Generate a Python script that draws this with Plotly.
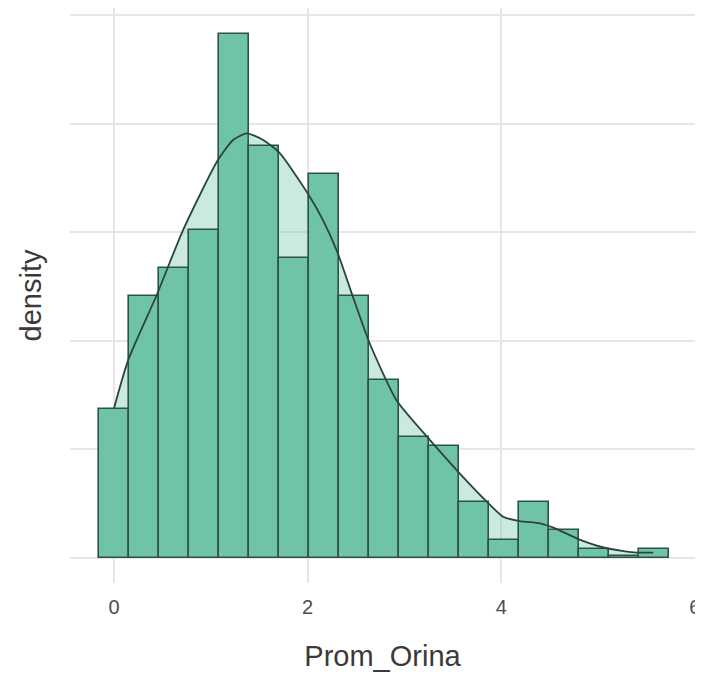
import plotly.graph_objects as go

# Histogram bins (centres) and densities
bin_centers = [0.00, 0.31, 0.62, 0.93, 1.24, 1.55, 1.86, 2.17, 2.48, 2.79,
               3.10, 3.41, 3.72, 4.03, 4.34, 4.65, 4.96, 5.27, 5.58]
bin_density = [0.137, 0.241, 0.267, 0.302, 0.483, 0.379, 0.276, 0.354, 0.241, 0.164,
               0.111, 0.103, 0.052, 0.017, 0.052, 0.026, 0.008, 0.002, 0.008]
bin_width = 0.31

# Kernel density curve
kde_x = [0.00, 0.145, 0.44, 0.713, 1.07, 1.23, 1.37, 1.54, 1.71, 2.00, 2.16,
         2.31, 2.47, 2.64, 2.92, 3.26, 3.57, 3.85, 4.02, 4.19, 4.40, 4.54, 4.81,
         5.09, 5.40, 5.57]
kde_y = [0.138, 0.182, 0.242, 0.302, 0.366, 0.385, 0.391, 0.385, 0.373, 0.336, 0.311,
         0.281, 0.240, 0.198, 0.145, 0.109, 0.078, 0.052, 0.038, 0.034, 0.032, 0.028, 0.017,
         0.009, 0.005, 0.005]

x_ticks = [0, 2, 4, 6]
x_range = [-0.455, 6.002]
y_range = [-0.023, 0.5065]
y_grid = [0, 0.1, 0.2, 0.3, 0.4, 0.5]

fig = go.Figure()

# density fill (behind bars)
fig.add_trace(go.Scatter(
    x=kde_x, y=kde_y, mode="lines", line=dict(width=0, shape="spline", smoothing=0.6),
    fill="tozeroy", fillcolor="rgba(102,194,165,0.35)", hoverinfo="skip",
    showlegend=False, xaxis="x", yaxis="y"))

# histogram bars (on overlay axis so they sit above the fill)
fig.add_trace(go.Bar(
    x=bin_centers, y=bin_density, width=[bin_width] * len(bin_centers),
    marker=dict(color="#6FC3A8", line=dict(color="#2F5247", width=1.6)),
    showlegend=False, xaxis="x", yaxis="y2"))

# density line on top
fig.add_trace(go.Scatter(
    x=kde_x, y=kde_y, mode="lines",
    line=dict(color="#2B453C", width=1.8, shape="spline", smoothing=0.6),
    showlegend=False, xaxis="x", yaxis="y2"))

fig.update_layout(
    width=695, height=668,
    margin=dict(l=62, r=8, t=0, b=93, autoexpand=False),
    paper_bgcolor="white", plot_bgcolor="white",
    font=dict(family="Liberation Sans, Arial, sans-serif", color="#4D4D4D"),
    bargap=0,
    xaxis=dict(range=x_range, tickvals=x_ticks, ticktext=[str(t) for t in x_ticks],
               automargin=False, ticklabeloverflow="allow",
               showgrid=True, gridcolor="#E6E6E6", gridwidth=1.6, zeroline=False,
               showline=False, ticks="outside", ticklen=6, tickcolor="rgba(0,0,0,0)",
               tickfont=dict(size=20, color="#4D4D4D"),
               title=dict(text="Prom_Orina", font=dict(size=29, color="#3A3A3A"), standoff=28)),
    yaxis=dict(range=y_range, tickvals=y_grid, showticklabels=False, automargin=False,
               showgrid=True, gridcolor="#E6E6E6", gridwidth=1.6, zeroline=False,
               showline=False, ticks="",
               title=dict(text="density", font=dict(size=29, color="#3A3A3A"), standoff=18)),
    yaxis2=dict(range=y_range, overlaying="y", showgrid=False, showticklabels=False,
                zeroline=False, showline=False, ticks=""),
)

fig.write_html("out.html")
